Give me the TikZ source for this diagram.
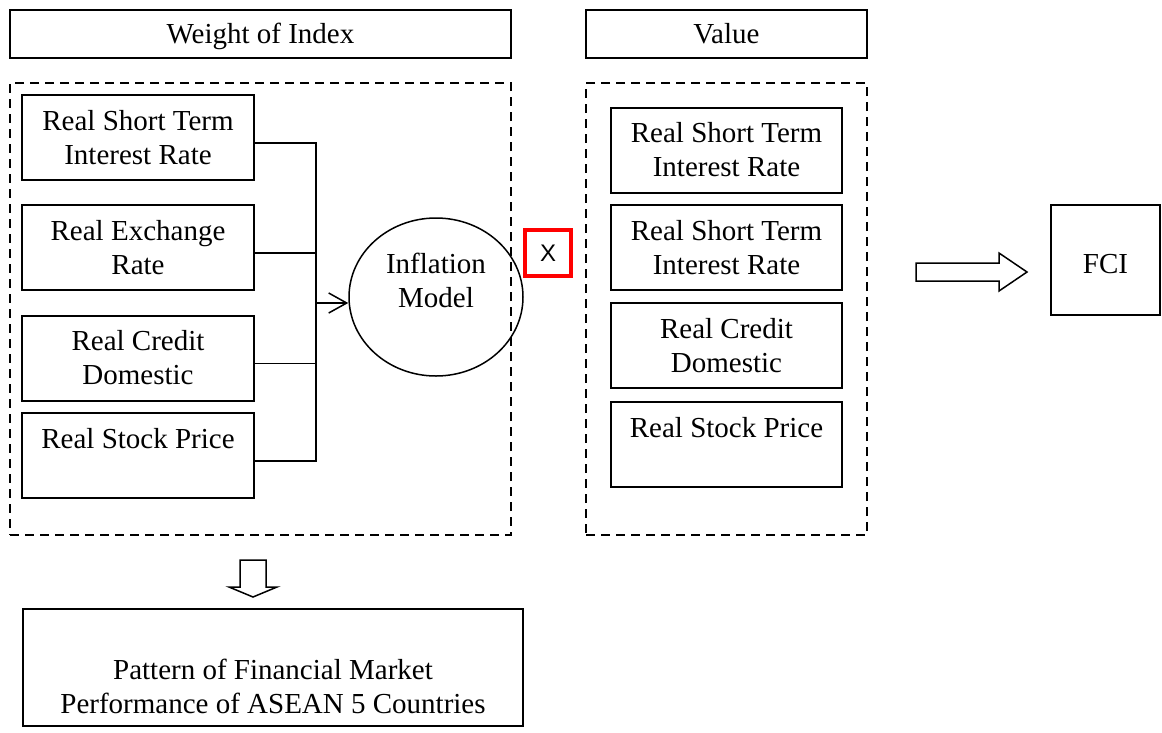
\documentclass[tikz,border=0pt]{standalone}
\usepackage{fontspec}
\setmainfont{Liberation Serif}
\newfontfamily\xsans{Liberation Sans}
\usetikzlibrary{shapes.geometric,arrows.meta}
\begin{document}
\begin{tikzpicture}[x=1pt,y=-1pt,
  txt/.style={font=\fontsize{29}{34}\selectfont},
  box/.style={draw, line width=2pt, rectangle, inner sep=0pt, outer sep=0pt, align=center, txt},
  inbox/.style={box, minimum width=232pt, minimum height=85pt},
  valbox/.style={box, minimum width=231pt, minimum height=85pt},
  group/.style={draw, line width=1.8pt, dash pattern=on 9pt off 6pt, rectangle, inner sep=0pt, outer sep=0pt},
  conn/.style={line width=1.5pt},
  hollow/.style={draw, line width=1.5pt, line join=miter},
]
\useasboundingbox (0,0) rectangle (1162,732);

% headers
\node[box, minimum width=501pt, minimum height=48pt, text depth=0pt] (weight) at (260.5,33.5) {Weight of Index};
\node[box, minimum width=281pt, minimum height=48pt] (value) at (726.5,33.5) {Value};

% dashed groups
\node[group, minimum width=501pt, minimum height=452pt] (wgroup) at (260.5,309) {};
\node[group, minimum width=281pt, minimum height=452pt] (vgroup) at (726.5,309) {};

% index components
\node[inbox] (l1) at (138,137.5) {Real Short Term\\Interest Rate};
\node[inbox] (l2) at (138,247.5) {Real Exchange\\Rate};
\node[inbox] (l3) at (138,358) {Real Credit\\Domestic};
\node[inbox] (l4) at (138,455.5) {Real Stock Price\\\mbox{}};

% inflation model
\node[draw, ellipse, line width=1.5pt, minimum width=174pt, minimum height=158pt,
      inner sep=0pt, align=center, txt] (model) at (436,297) {Inflation\\Model\\\mbox{}};

% multiplication sign
\node[draw=red, line width=4pt, minimum size=46pt, inner sep=0pt,
      font=\xsans\fontsize{24}{28}\selectfont] (times) at (548,253) {X};

% values
\node[valbox] (r1) at (726.5,150) {Real Short Term\\Interest Rate};
\node[valbox] (r2) at (726.5,247.5) {Real Short Term\\Interest Rate};
\node[valbox] (r3) at (726.5,345.5) {Real Credit\\Domestic};
\node[valbox] (r4) at (726.5,444) {Real Stock Price\\\mbox{}};

% result
\node[box, minimum width=109pt, minimum height=110pt, text height=28.8pt, text depth=0pt] (fci) at (1105.5,259.5) {FCI};
\node[box, minimum width=500pt, minimum height=117pt] (pattern) at (273,667.5)
  {\strut\\Pattern of Financial Market\\Performance of ASEAN 5 Countries};

% bus into the model
\coordinate (join) at (316,303);
\foreach \i in {1,...,4} \coordinate (c\i) at ([yshift=-5.5pt]l\i.east);
\draw[conn] (c1) -- (c1 -| join) -- (c4 -| join) -- (c4);
\draw[conn] (c2) -- (c2 -| join);
\draw[conn] (c3) -- (c3 -| join);
\draw[conn, -{Straight Barb[length=18pt, width=20pt, line width=1.5pt]}] (join) -- (join -| model.west);

% hollow block arrows
\coordinate (ra) at (916,272);
\draw[hollow] (ra) ++(0,-9) -- ++(83,0) -- ++(0,-10) -- ++(28,19) -- ++(-28,19) -- ++(0,-10) -- ++(-83,0) -- cycle;
\coordinate (da) at (253,560);
\draw[hollow] (da) ++(-13,0) -- ++(26,0) -- ++(0,27) -- ++(11,0) -- ++(-24,10) -- ++(-24,-10) -- ++(11,0) -- cycle;
\end{tikzpicture}
\end{document}
